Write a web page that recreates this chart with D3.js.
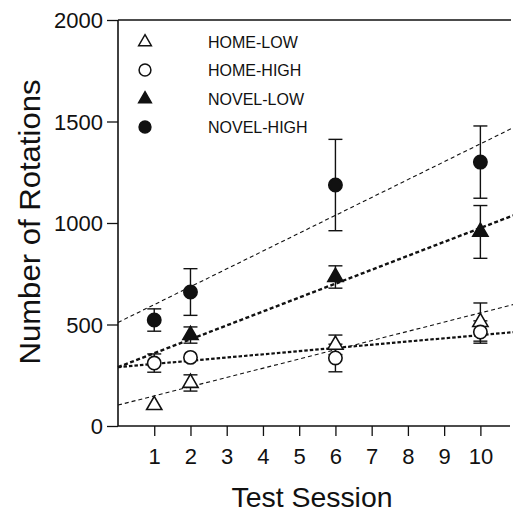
<!DOCTYPE html>
<html><head><meta charset="utf-8">
<script src="https://cdn.jsdelivr.net/npm/d3@7"></script>
<style>body{margin:0;background:#fff}svg{display:block}text{font-family:"Liberation Sans",Arial,sans-serif;fill:#111}</style>
</head><body><svg id="c" width="513" height="512"></svg>
<script>
const sessions = [1, 2, 6, 10];
const xTicks = [1,2,3,4,5,6,7,8,9,10];
const yTicks = [0, 500, 1000, 1500, 2000];
const seriesNames = ["HOME-LOW", "HOME-HIGH", "NOVEL-LOW", "NOVEL-HIGH"];
const homeLow = [103, 212, 400, 512];
const homeLowErr = [0, 40, 48, 94];
const homeHigh = [310, 338, 335, 463];
const homeHighErr = [45, 0, 68, 55];
const novelLow = [null, 448, 734, 956];
const novelLowErr = [0, 40, 55, 130];
const novelHigh = [522, 660, 1187, 1300];
const novelHighErr = [55, 115, 225, 178];
const fitX = [0, 10.9];
const homeLowFit = [103, 598];
const homeHighFit = [290, 462];
const novelLowFit = [290, 1037];
const novelHighFit = [510, 1469];

const FONT = '"Liberation Sans",Arial,sans-serif';
const svg = d3.select("#c");
const x = d3.scaleLinear().domain([0, 10.9]).range([118, 513]);
const y = d3.scaleLinear().domain([0, 2000]).range([426, 20]);

// axes
const yAx = svg.append("g").attr("transform", "translate(118,0)")
  .call(d3.axisLeft(y).tickValues(yTicks).tickFormat(d3.format("d")).tickSize(11).tickPadding(4));
yAx.select(".domain").remove();
yAx.selectAll("line").attr("stroke", "#111").attr("stroke-width", 1.3);
yAx.selectAll("text").style("font-size", "22px").attr("dy", "0.36em").attr("fill", "#111").style("font-family", FONT);

const xAx = svg.append("g").attr("transform", "translate(0,426)")
  .call(d3.axisBottom(x).tickValues(xTicks).tickSize(10).tickPadding(12));
xAx.select(".domain").remove();
xAx.selectAll("line").attr("stroke", "#111").attr("stroke-width", 1.3);
xAx.selectAll("text").style("font-size", "22px").attr("fill", "#111").style("font-family", FONT);

svg.append("line").attr("x1", x(0)).attr("x2", x(0)).attr("y1", y(2000)).attr("y2", y(0)).attr("stroke", "#111").attr("stroke-width", 1.6);
svg.append("line").attr("x1", x(0)).attr("x2", 510).attr("y1", y(0)).attr("y2", y(0)).attr("stroke", "#111").attr("stroke-width", 1.6);
svg.append("line").attr("x1", x(0)).attr("x2", 511).attr("y1", y(2000)).attr("y2", y(2000)).attr("stroke", "#111").attr("stroke-width", 1.6);

// titles
svg.append("text").attr("transform", "translate(40,222) rotate(-90)")
  .attr("text-anchor", "middle").style("font-size", "29px")
  .attr("textLength", 285).attr("lengthAdjust", "spacingAndGlyphs").text("Number of Rotations");
svg.append("text").attr("x", 312).attr("y", 507).attr("text-anchor", "middle")
  .style("font-size", "28px").attr("textLength", 161).attr("lengthAdjust", "spacingAndGlyphs").text("Test Session");

// fit lines
const fits = [
  {v: homeLowFit, w: 1.1, d: "4,3"},
  {v: homeHighFit, w: 2.2, d: "3.5,2"},
  {v: novelLowFit, w: 2.4, d: "4,2.5"},
  {v: novelHighFit, w: 1.1, d: "4,3"}
];
const line = d3.line().x(d => x(d[0])).y(d => y(d[1]));
fits.forEach(f => {
  svg.append("path").datum(fitX.map((xx, i) => [xx, f.v[i]]))
    .attr("d", line).attr("fill", "none").attr("stroke", "#111")
    .attr("stroke-width", f.w).attr("stroke-dasharray", f.d);
});

// points
const groups = [
  {v: homeLow, e: homeLowErr, sym: d3.symbolTriangle, fill: "#fff"},
  {v: homeHigh, e: homeHighErr, sym: d3.symbolCircle, fill: "#fff"},
  {v: novelLow, e: novelLowErr, sym: d3.symbolTriangle, fill: "#111"},
  {v: novelHigh, e: novelHighErr, sym: d3.symbolCircle, fill: "#111"}
];
const cap = 7;
groups.forEach(g => {
  sessions.forEach((s, i) => {
    const val = g.v[i];
    if (val == null) return;
    const err = g.e[i];
    if (err > 0) {
      const eg = svg.append("g").attr("stroke", "#111").attr("stroke-width", 1.4);
      eg.append("line").attr("x1", x(s)).attr("x2", x(s)).attr("y1", y(val - err)).attr("y2", y(val + err));
      eg.append("line").attr("x1", x(s) - cap).attr("x2", x(s) + cap).attr("y1", y(val + err)).attr("y2", y(val + err));
      eg.append("line").attr("x1", x(s) - cap).attr("x2", x(s) + cap).attr("y1", y(val - err)).attr("y2", y(val - err));
    }
  });
});
groups.forEach(g => {
  const size = g.sym === d3.symbolCircle ? 140 : 100;
  sessions.forEach((s, i) => {
    const val = g.v[i];
    if (val == null) return;
    svg.append("path").attr("d", d3.symbol(g.sym, size)())
      .attr("transform", `translate(${x(s)},${y(val)})`)
      .attr("fill", g.fill).attr("stroke", "#111").attr("stroke-width", 1.6);
  });
});

// legend
const legY = [42, 70, 99, 127];
groups.forEach((g, i) => {
  const size = g.sym === d3.symbolCircle ? 110 : 70;
  svg.append("path").attr("d", d3.symbol(g.sym, size)())
    .attr("transform", `translate(145,${legY[i]})`)
    .attr("fill", g.fill).attr("stroke", "#111").attr("stroke-width", 1.5);
  svg.append("text").attr("x", 208).attr("y", legY[i]).attr("dy", "0.36em")
    .style("font-size", "16px").text(seriesNames[i]);
});
</script></body></html>
